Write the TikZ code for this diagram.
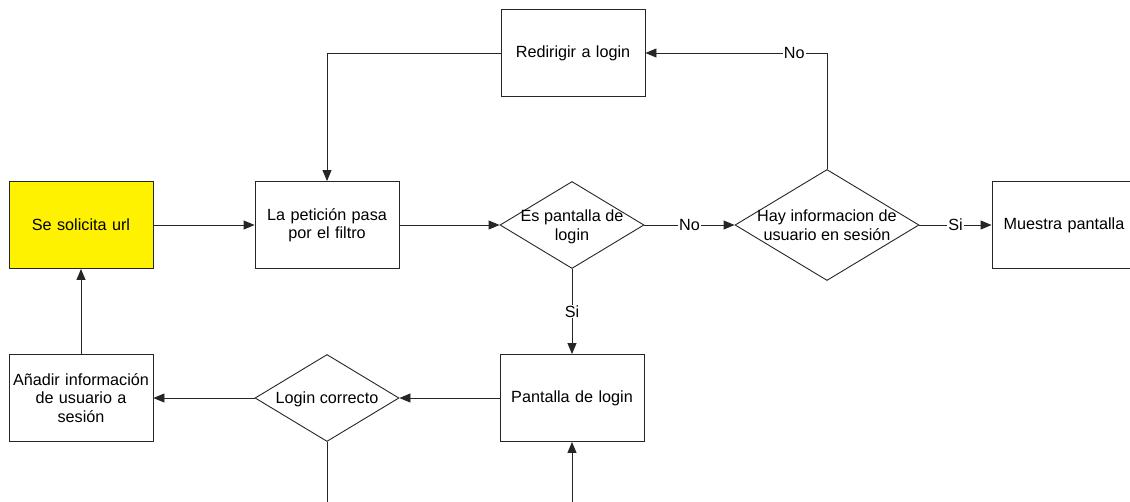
\documentclass[tikz,border=0pt]{standalone}
\usepackage{fontspec}
\setmainfont{Liberation Sans}
\usetikzlibrary{shapes.geometric,arrows.meta}

% decision text: zero-size box so the diamond keeps its own size
\newcommand{\dtext}[1]{\raisebox{-6.5pt}[0pt][0pt]{\makebox[0pt][c]{\begin{tabular}{@{}c@{}}#1\end{tabular}}}}

\tikzset{
  flowline/.style={draw=black!85, line width=0.9pt},
  flowarrow/.style={flowline, -{Triangle[length=11pt,width=9pt]}},
  procbox/.style={draw=black!85, line width=0.9pt, fill=white, rectangle,
    minimum width=144pt, minimum height=87pt, inner sep=0pt,
    align=center, text width=140pt},
  startbox/.style={procbox, fill=yellow},
  decision/.style={draw=black!85, line width=0.9pt, fill=white, diamond,
    minimum width=144pt, minimum height=87pt, inner sep=0pt, aspect=1},
  tag/.style={fill=white, inner sep=1pt, font=\fontsize{16.2}{18.5}\selectfont}
}

\begin{document}
\begin{tikzpicture}[x=1pt, y=-1pt, font=\fontsize{16.2}{18.5}\selectfont]
  \clip (0,0) rectangle (1130,501);
  \fill[white] (0,0) rectangle (1130,501);

  % process steps
  \node[startbox] (url)     at (81,225)  {Se solicita url};
  \node[procbox]  (filtro)  at (327,225) {La petición pasa\\por el filtro};
  \node[decision] (espl)    at (572,225) {\dtext{Es pantalla de\\login}};
  \node[decision, minimum width=184pt, minimum height=111pt]
                  (hay)     at (827,225) {\dtext{Hay informacion de\\usuario en sesión}};
  \node[procbox]  (muestra) at (1064,225) {Muestra pantalla};
  \node[procbox]  (redir)   at (573,53)  {Redirigir a login};
  \node[procbox]  (plogin)  at (572,398) {Pantalla de login};
  \node[decision] (lcorr)   at (327,398) {\dtext{Login correcto}};
  \node[procbox]  (anadir)  at (81,398)  {Añadir información\\de usuario a\\sesión};

  % loose ends running off the bottom edge
  \coordinate (lcOut) at (327,515);
  \coordinate (plIn)  at (572,515);

  % connectors
  \draw[flowarrow] (url) -- (filtro);
  \draw[flowarrow] (filtro) -- (espl);
  \draw[flowarrow] (espl) -- node[tag] {No} (hay);
  \draw[flowarrow] (hay) -- node[tag] {Si} (muestra);
  \draw[flowarrow] (hay.north) |- node[tag, pos=0.59] {No} (redir.east);
  \draw[flowarrow] (redir.west) -| (filtro.north);
  \draw[flowarrow] (espl) -- node[tag] {Si} (plogin);
  \draw[flowarrow] (plogin) -- (lcorr);
  \draw[flowarrow] (lcorr) -- (anadir);
  \draw[flowarrow] (anadir) -- (url);
  \draw[flowline]  (lcorr.south) -- (lcOut);
  \draw[flowarrow] (plIn) -- (plogin.south);
\end{tikzpicture}
\end{document}
